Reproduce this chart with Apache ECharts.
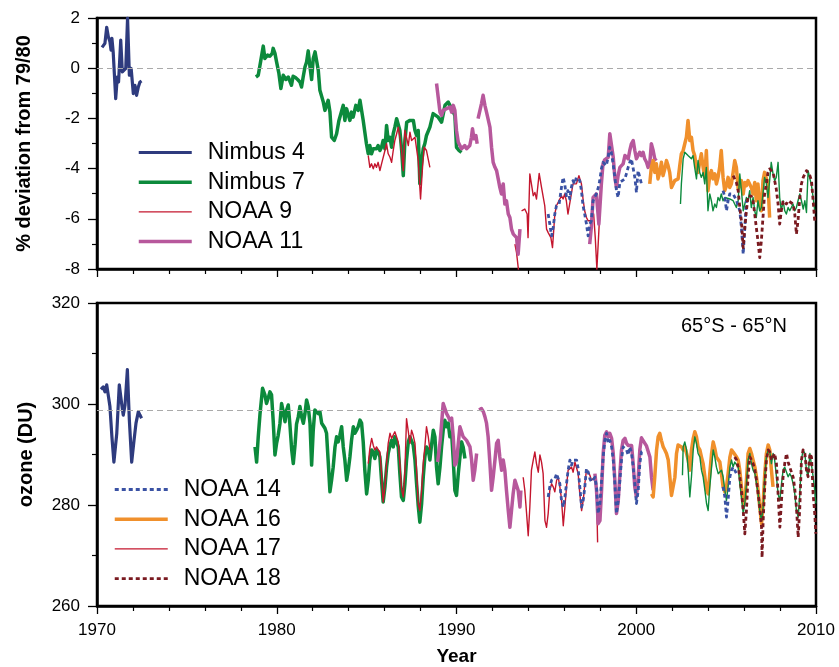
<!DOCTYPE html>
<html>
<head>
<meta charset="utf-8">
<script src="https://cdn.jsdelivr.net/npm/echarts@6/dist/echarts.min.js"></script>
<style>
  html, body { margin: 0; padding: 0; background: #fff; }
  #chart { width: 839px; height: 667px; }
</style>
</head>
<body>
<div id="chart"></div>
<script>
// 上图：相对 79/80 的偏差 (%)，[年份, 数值]，'-' 表示断开
let n4Dev = [[1970.28,0.83],[1970.44,0.99],[1970.54,1.63],[1970.63,1.25],[1970.72,1.05],[1970.78,0.72],[1970.83,1.19],[1970.9,0.65],[1971.04,-1.21],[1971.13,-0.35],[1971.2,-0.55],[1971.32,1.12],[1971.41,-0.15],[1971.5,-0.08],[1971.6,-0.01],[1971.7,2.0],[1971.8,-0.28],[1971.9,-0.01],[1972.02,-1.01],[1972.11,-0.68],[1972.2,-1.08],[1972.3,-0.75],[1972.39,-0.55],[1972.48,-0.51]]
let n7Dev = [[1978.84,-0.35],[1978.97,-0.28],[1979.1,0.25],[1979.25,0.88],[1979.34,0.39],[1979.49,0.52],[1979.62,0.48],[1979.75,0.59],[1979.8,0.79],[1979.9,0.59],[1979.99,0.25],[1980.12,-0.21],[1980.23,-0.81],[1980.36,-0.28],[1980.51,-0.45],[1980.64,-0.35],[1980.73,-0.41],[1980.82,-0.68],[1980.91,-0.32],[1981.04,-0.37],[1981.16,-0.45],[1981.29,-0.55],[1981.38,-0.75],[1981.47,-0.35],[1981.57,0.05],[1981.66,0.25],[1981.75,0.69],[1981.85,0.05],[1981.94,-0.45],[1982.03,0.39],[1982.13,0.65],[1982.22,0.59],[1982.31,-0.08],[1982.4,-0.88],[1982.5,-0.81],[1982.59,-1.35],[1982.68,-1.68],[1982.77,-1.48],[1982.86,-1.28],[1982.96,-1.75],[1983.05,-2.75],[1983.2,-2.88],[1983.33,-2.61],[1983.46,-2.08],[1983.57,-2.08],[1983.7,-1.48],[1983.79,-2.08],[1983.88,-1.61],[1983.98,-1.68],[1984.07,-2.08],[1984.16,-1.75],[1984.25,-1.95],[1984.4,-1.48],[1984.53,-1.68],[1984.63,-1.28],[1984.72,-1.35],[1984.81,-2.08],[1984.9,-2.15],[1984.99,-3.01],[1985.09,-3.41],[1985.18,-3.08],[1985.27,-3.41],[1985.37,-3.21],[1985.46,-3.28],[1985.55,-3.21],[1985.64,-3.08],[1985.74,-3.28],[1985.83,-3.15],[1985.92,-2.88],[1986.02,-3.21],[1986.11,-2.28],[1986.2,-2.88],[1986.3,-2.75],[1986.39,-3.15],[1986.48,-2.61],[1986.57,-2.35],[1986.67,-2.01],[1986.76,-1.95],[1986.85,-2.48],[1986.95,-3.28],[1987.04,-4.28],[1987.13,-2.88],[1987.23,-2.15],[1987.32,-2.21],[1987.41,-2.08],[1987.5,-2.15],[1987.6,-2.08],[1987.69,-2.48],[1987.78,-2.68],[1987.87,-2.48],[1987.96,-4.6],[1988.05,-3.81],[1988.15,-3.2],[1988.24,-3.0],[1988.33,-2.68],[1988.52,-2.35],[1988.7,-1.81],[1988.8,-1.75],[1988.98,-1.95],[1989.17,-2.15],[1989.36,-1.48],[1989.54,-1.35],[1989.73,-1.61],[1989.82,-1.55],[1989.91,-1.88],[1990.0,-3.15],[1990.15,-3.28],[1990.28,-3.35]]
let n9Dev = [[1985.09,-3.48],[1985.18,-3.95],[1985.27,-3.81],[1985.37,-4.01],[1985.46,-3.81],[1985.55,-3.95],[1985.64,-3.75],[1985.74,-4.08],[1985.83,-3.81],[1985.92,-3.75],[1986.02,-3.28],[1986.11,-3.01],[1986.2,-3.41],[1986.3,-3.55],[1986.39,-3.75],[1986.48,-3.28],[1986.57,-2.88],[1986.67,-2.61],[1986.76,-2.35],[1986.85,-2.75],[1986.95,-3.35],[1987.04,-4.08],[1987.13,-2.48],[1987.23,-2.48],[1987.32,-3.08],[1987.41,-2.55],[1987.5,-2.88],[1987.6,-2.88],[1987.69,-2.75],[1987.78,-2.75],[1987.87,-3.68],[1988.0,-5.21],[1988.11,-3.95],[1988.2,-3.15],[1988.33,-3.28],[1988.42,-3.21],[1988.52,-3.95],[1990,'-'],
  [1993.25,-7.01],[1993.34,-7.35],[1993.49,-8.3],[1993.55,'-'],[1993.62,-5.68],[1993.8,-5.61],[1993.93,-5.81],[1993.98,-6.75],[1994.08,-4.21],[1994.27,-5.08],[1994.36,-4.95],[1994.45,-5.21],[1994.6,-4.19],[1994.73,-4.75],[1994.82,-4.75],[1994.91,-5.48],[1995.01,-6.41],[1995.1,-6.55],[1995.25,-6.75],[1995.34,-7.15],[1995.38,-6.75],[1995.47,-5.81],[1995.56,-5.48],[1995.65,-5.35],[1995.75,-5.28],[1995.84,-5.08],[1995.93,-5.21],[1996.02,-5.01],[1996.11,-5.28],[1996.2,-5.81],[1996.3,-5.75],[1996.39,-5.01],[1996.48,-4.61],[1996.67,-4.61],[1996.81,-4.28],[1996.95,-4.61],[1997.04,-5.21],[1997.13,-5.68],[1997.23,-5.95],[1997.32,-6.08],[1997.41,-6.01],[1997.5,-6.08],[1997.63,-5.81],[1997.72,-6.75],[1997.81,-8.01],[1997.92,-6.48],[1997.97,-5.81]]
let n11Dev = [[1988.89,-0.61],[1988.98,-1.15],[1989.08,-1.75],[1989.17,-1.88],[1989.26,-1.68],[1989.36,-1.75],[1989.45,-1.61],[1989.54,-1.68],[1989.64,-1.55],[1989.73,-1.75],[1989.82,-1.48],[1989.91,-1.68],[1990.0,-2.48],[1990.1,-2.95],[1990.19,-3.01],[1990.28,-3.21],[1990.37,-3.15],[1990.46,-3.08],[1990.56,-3.21],[1990.65,-3.28],[1990.74,-3.08],[1990.83,-2.75],[1990.89,-2.41],[1990.97,-2.81],[1991.08,-2.68],[1991.15,-3.01],[1991.17,'-'],
  [1991.2,-2.01],[1991.3,-1.95],[1991.39,-1.41],[1991.48,-1.08],[1991.58,-1.48],[1991.67,-1.75],[1991.76,-1.75],[1991.86,-2.35],[1991.95,-3.15],[1992.04,-3.75],[1992.14,-3.95],[1992.23,-4.08],[1992.32,-4.41],[1992.41,-4.75],[1992.5,-5.01],[1992.6,-4.61],[1992.69,-5.41],[1992.78,-5.28],[1992.88,-5.81],[1992.97,-5.95],[1993.06,-6.41],[1993.16,-6.61],[1993.25,-6.55],[1993.34,-6.75],[1993.43,-7.41],[1993.53,-6.41],[1995,'-'],
  [1997.41,-7.01],[1997.5,-6.35],[1997.6,-5.15],[1997.78,-5.01],[1997.92,-6.21],[1998.06,-4.61],[1998.15,-3.81],[1998.24,-3.65],[1998.33,-3.7],[1998.44,-3.55],[1998.53,-2.61],[1998.62,-2.55],[1998.72,-3.55],[1998.81,-4.35],[1998.9,-4.75],[1998.99,-4.28],[1999.09,-3.95],[1999.18,-3.88],[1999.27,-3.81],[1999.37,-3.48],[1999.46,-3.41],[1999.55,-3.61],[1999.64,-3.28],[1999.73,-3.01],[1999.83,-2.88],[1999.92,-3.28],[2000.01,-3.61],[2000.1,-3.48],[2000.19,-3.35],[2000.29,-3.48],[2000.38,-3.35],[2000.47,-3.61],[2000.57,-3.75],[2000.66,-3.95],[2000.75,-3.81],[2000.84,-3.01],[2000.94,-3.28],[2001.03,-3.61],[2001.12,-3.68]]
let n14Dev = [[1995.1,-5.81],[1995.19,-6.21],[1995.29,-6.68],[1995.38,-6.35],[1995.47,-5.81],[1995.56,-5.48],[1995.71,-5.41],[1995.84,-4.75],[1995.93,-4.35],[1996.02,-4.61],[1996.11,-5.08],[1996.2,-4.88],[1996.3,-5.21],[1996.39,-4.75],[1996.48,-4.48],[1996.57,-4.61],[1996.67,-4.35],[1996.76,-4.28],[1996.86,-4.48],[1996.95,-4.88],[1997.04,-5.48],[1997.13,-5.81],[1997.23,-6.21],[1997.32,-6.68],[1997.41,-6.21],[1997.5,-6.08],[1997.6,-5.28],[1997.78,-5.01],[1997.87,-4.81],[1997.97,-4.48],[1998.06,-4.01],[1998.15,-3.75],[1998.24,-3.68],[1998.33,-3.88],[1998.42,-3.61],[1998.52,-3.15],[1998.61,-3.35],[1998.7,-3.75],[1998.81,-4.35],[1998.9,-4.88],[1998.99,-5.15],[1999.09,-4.55],[1999.18,-4.48],[1999.37,-4.41],[1999.46,-4.35],[1999.55,-3.95],[1999.64,-3.75],[1999.73,-3.61],[1999.83,-3.68],[1999.92,-4.35],[2000.01,-4.95],[2000.1,-4.08],[2000.19,-4.01],[2000.29,-4.61],[2002,'-'],
  [2004.83,-4.88],[2004.93,-5.15],[2005.02,-5.68],[2005.11,-5.28],[2005.2,-5.01],[2005.39,-5.01],[2005.58,-5.28],[2005.76,-5.68],[2005.85,-6.35],[2005.95,-7.41],[2006.04,-6.35],[2006.13,-5.28]]
let n16Dev = [[2000.75,-4.61],[2000.84,-3.95],[2000.94,-3.68],[2001.03,-4.15],[2001.12,-3.81],[2001.21,-4.41],[2001.31,-4.15],[2001.4,-3.75],[2001.49,-4.28],[2001.59,-4.01],[2001.68,-3.68],[2001.77,-3.88],[2001.86,-4.15],[2001.96,-4.75],[2002.05,-4.81],[2002.14,-4.48],[2002.24,-4.55],[2002.33,-4.41],[2002.42,-3.88],[2002.51,-3.41],[2002.61,-3.28],[2002.7,-3.01],[2002.79,-2.75],[2002.88,-2.08],[2002.98,-2.88],[2003.07,-2.75],[2003.16,-3.28],[2003.25,-3.48],[2003.35,-3.95],[2003.44,-4.15],[2003.53,-3.75],[2003.62,-3.41],[2003.72,-3.95],[2003.81,-4.35],[2003.9,-3.28],[2003.99,-4.88],[2004.09,-4.28],[2004.18,-4.08],[2004.27,-4.41],[2004.37,-4.21],[2004.46,-4.61],[2004.55,-4.35],[2004.64,-3.95],[2004.73,-3.28],[2004.83,-4.35],[2004.92,-4.88],[2005.02,-4.68],[2005.11,-4.35],[2005.2,-4.75],[2005.29,-4.61],[2005.39,-4.15],[2005.48,-3.68],[2005.57,-3.95],[2005.67,-4.81],[2005.76,-4.88],[2005.85,-4.48],[2005.95,-5.01],[2006.04,-4.55],[2006.13,-4.68],[2006.22,-4.48],[2006.31,-4.55],[2006.4,-4.75],[2006.5,-5.01],[2006.59,-4.55],[2006.68,-5.28],[2006.77,-4.61],[2006.87,-5.41],[2006.96,-5.68],[2007.05,-4.48],[2007.14,-4.15],[2007.24,-4.08],[2007.33,-4.61],[2007.42,-5.95]]
let n17Dev = [[2002.46,-5.41],[2002.51,-4.61],[2002.61,-3.61],[2002.7,-3.35],[2002.79,-3.35],[2002.88,-3.48],[2002.98,-3.41],[2003.07,-3.61],[2003.16,-3.48],[2003.25,-3.95],[2003.35,-4.41],[2003.44,-3.68],[2003.53,-4.15],[2003.62,-4.35],[2003.72,-4.15],[2003.81,-4.61],[2003.9,-3.95],[2003.99,-5.68],[2004.09,-5.01],[2004.18,-5.28],[2004.27,-5.68],[2004.37,-5.41],[2004.46,-5.55],[2004.55,-5.15],[2004.64,-5.28],[2004.73,-5.01],[2004.83,-5.28],[2004.93,-5.15],[2005.02,-5.2],[2005.2,-5.21],[2005.39,-5.28],[2005.57,-5.55],[2005.67,-5.28],[2005.76,-4.21],[2005.85,-4.88],[2005.95,-5.68],[2006.04,-5.41],[2006.13,-5.15],[2006.22,-5.28],[2006.31,-4.88],[2006.4,-5.55],[2006.5,-5.15],[2006.59,-5.68],[2006.68,-5.95],[2006.77,-5.28],[2006.87,-5.68],[2006.96,-5.55],[2007.05,-5.01],[2007.14,-4.35],[2007.24,-4.61],[2007.33,-5.15],[2007.42,-4.48],[2007.51,-3.75],[2007.61,-4.21],[2007.7,-4.48],[2007.79,-4.35],[2007.89,-3.75],[2007.98,-5.15],[2008.07,-5.68],[2008.17,-5.28],[2008.26,-5.68],[2008.35,-5.81],[2008.45,-5.55],[2008.54,-5.68],[2008.63,-5.55],[2008.72,-5.41],[2008.82,-5.68],[2008.91,-5.55],[2009.0,-5.28],[2009.1,-5.01],[2009.19,-5.28],[2009.29,-5.61],[2009.38,-5.28],[2009.47,-5.75],[2009.56,-4.08],[2009.66,-4.15],[2009.75,-4.68],[2009.84,-5.15],[2009.93,-5.68]]
let n18Dev = [[2005.39,-4.28],[2005.48,-4.3],[2005.57,-4.55],[2005.67,-4.88],[2005.76,-5.55],[2005.85,-6.08],[2005.95,-7.15],[2006.04,-6.35],[2006.13,-5.68],[2006.22,-5.08],[2006.31,-5.01],[2006.4,-5.1],[2006.5,-5.28],[2006.59,-5.81],[2006.68,-6.35],[2006.77,-6.88],[2006.87,-7.55],[2006.96,-6.88],[2007.05,-5.95],[2007.14,-5.01],[2007.24,-4.61],[2007.33,-4.15],[2007.42,-4.01],[2007.51,-4.01],[2007.61,-4.15],[2007.7,-4.48],[2007.79,-4.81],[2007.89,-5.41],[2007.98,-6.21],[2008.07,-5.68],[2008.17,-5.28],[2008.26,-5.21],[2008.35,-5.41],[2008.45,-5.28],[2008.54,-5.21],[2008.72,-5.41],[2008.82,-5.81],[2008.91,-6.61],[2009.0,-6.08],[2009.1,-5.15],[2009.19,-4.61],[2009.29,-4.35],[2009.47,-4.08],[2009.56,-4.15],[2009.66,-4.28],[2009.75,-4.48],[2009.84,-5.28],[2009.93,-6.08]]

// 下图：臭氧总量 (DU)
let n4Oz = [[1970.22,302.9],[1970.35,303.4],[1970.44,302.4],[1970.54,303.8],[1970.63,303.8],[1970.72,299.5],[1970.83,293.5],[1970.94,288.5],[1971.1,294.2],[1971.24,303.8],[1971.37,300.1],[1971.46,297.8],[1971.56,299.8],[1971.69,306.8],[1971.8,296.8],[1971.93,288.5],[1972.06,292.8],[1972.17,296.2],[1972.3,298.5],[1972.39,297.8],[1972.48,297.2]]
let n7Oz = [[1978.79,291.5],[1978.88,288.5],[1978.97,293.5],[1979.07,298.1],[1979.21,303.1],[1979.34,301.8],[1979.43,300.1],[1979.52,301.1],[1979.62,302.4],[1979.71,301.8],[1979.8,296.8],[1979.9,289.9],[1979.99,292.2],[1980.08,293.8],[1980.18,296.2],[1980.27,300.1],[1980.36,298.5],[1980.46,296.5],[1980.55,298.8],[1980.64,299.8],[1980.73,296],[1980.83,291],[1980.92,288.2],[1981.02,292],[1981.1,296],[1981.2,297.5],[1981.29,299.5],[1981.38,297.5],[1981.48,296.2],[1981.57,298.1],[1981.66,300.8],[1981.75,299.5],[1981.85,296.2],[1981.94,287.9],[1982.03,294.8],[1982.12,298.8],[1982.22,299.1],[1982.31,298.1],[1982.4,298.5],[1982.5,296.2],[1982.68,295.2],[1982.77,294.2],[1982.87,288.2],[1982.96,282.6],[1983.05,284.9],[1983.14,287.5],[1983.24,291.5],[1983.33,293.5],[1983.42,292.5],[1983.51,293.8],[1983.61,295.5],[1983.7,291.5],[1983.79,288.9],[1983.89,284.9],[1983.98,286.9],[1984.07,289.5],[1984.16,292.8],[1984.26,295.5],[1984.35,294.2],[1984.44,294.8],[1984.53,295.5],[1984.63,296.8],[1984.72,296.2],[1984.81,292.5],[1984.9,286.9],[1985.0,282.2],[1985.09,284.9],[1985.18,288.9],[1985.28,290.9],[1985.37,290.5],[1985.46,289.2],[1985.55,290.9],[1985.65,290.5],[1985.74,289.5],[1985.83,284.9],[1985.92,280.6],[1986.02,283.6],[1986.11,287.5],[1986.2,290.2],[1986.3,291.8],[1986.39,292.8],[1986.48,291.5],[1986.57,293.5],[1986.67,293.2],[1986.76,291.5],[1986.85,286.2],[1986.94,281.6],[1987.04,280.9],[1987.13,284.2],[1987.22,288.9],[1987.32,292.5],[1987.41,293.5],[1987.5,293.2],[1987.59,291.9],[1987.69,288.9],[1987.78,284.2],[1987.87,279.9],[1987.96,276.6],[1988.06,280.3],[1988.15,285.5],[1988.24,289.5],[1988.33,291.5],[1988.43,290.9],[1988.52,288.9],[1988.61,291.8],[1988.71,294.8],[1988.8,293.5],[1988.89,287.5],[1988.98,284.2],[1989.08,287.5],[1989.17,291.5],[1989.26,294.8],[1989.35,296.8],[1989.45,295.5],[1989.54,296.2],[1989.63,293.5],[1989.73,294.2],[1989.82,288.9],[1989.91,282.9],[1990.0,281.9],[1990.1,286.2],[1990.19,289.5],[1990.28,292.5],[1990.37,291.5],[1990.47,289.2]]
let n9Oz = [[1985.09,288.2],[1985.18,291.2],[1985.28,293.2],[1985.37,291.8],[1985.46,290.9],[1985.55,291.5],[1985.65,290.9],[1985.74,290.5],[1985.83,286.2],[1985.92,280.6],[1986.02,283.6],[1986.11,288.2],[1986.2,292.2],[1986.3,294.2],[1986.39,293.2],[1986.48,293.5],[1986.57,294.5],[1986.67,294.5],[1986.76,292.5],[1986.85,288.2],[1986.94,283.2],[1987.04,281.6],[1987.13,286.9],[1987.22,297.1],[1987.32,294.5],[1987.41,292.2],[1987.5,294.8],[1987.59,293.8],[1987.69,292.2],[1987.78,286.9],[1987.87,280.3],[1987.96,278.9],[1988.06,282.9],[1988.15,288.2],[1988.24,291.5],[1988.33,295.5],[1988.43,293.5],[1988.52,290.9],[1990,'-'],
  [1993.71,285.5],[1993.8,282.9],[1993.9,278.3],[1993.99,273.9],[1994.08,279.6],[1994.17,286.9],[1994.27,288.9],[1994.36,290.5],[1994.45,288.2],[1994.55,286.5],[1994.64,289.9],[1994.73,288.5],[1994.82,286.2],[1994.92,276.9],[1995.01,275.6],[1995.1,278.3],[1995.19,282.9],[1995.29,284.2],[1995.38,283.6],[1995.47,282.6],[1995.57,284.9],[1995.66,285.5],[1995.75,283.6],[1995.84,281.2],[1995.94,275.9],[1996.03,279.6],[1996.12,283.6],[1996.21,286.9],[1996.31,286.9],[1996.4,287.5],[1996.49,286.5],[1996.59,288.5],[1996.68,288.2],[1996.77,286.2],[1996.86,282.2],[1996.96,278.9],[1997.05,280.9],[1997.14,284.2],[1997.23,286.9],[1997.33,287.2],[1997.42,285.9],[1997.51,284.9],[1997.6,284.6],[1997.7,285.5],[1997.79,282.9],[1997.85,272.6]]
let n11Oz = [[1988.95,288.5],[1989.1,293],[1989.26,300.1],[1989.35,299.8],[1989.45,298.1],[1989.54,297.5],[1989.63,296.8],[1989.73,297.2],[1989.82,293.5],[1989.91,287.9],[1990.0,288.5],[1990.1,292.2],[1990.19,295.5],[1990.28,295.2],[1990.37,293.5],[1990.47,293.2],[1990.56,292.8],[1990.65,292.8],[1990.75,291.5],[1990.84,288.9],[1990.93,284.9],[1991.02,286.9],[1991.12,290.2],[1991.2,'-'],
  [1991.26,298.8],[1991.39,299.1],[1991.49,298.5],[1991.58,297.5],[1991.67,296.2],[1991.76,293.5],[1991.86,288.2],[1991.95,282.9],[1992.04,285.5],[1992.14,288.9],[1992.23,292.2],[1992.32,292.8],[1992.41,289.5],[1992.51,286.9],[1992.6,288.9],[1992.69,286.9],[1992.78,282.9],[1992.88,278.9],[1992.97,275.6],[1993.06,278.9],[1993.15,282.2],[1993.25,284.9],[1993.34,284.9],[1993.43,282.9],[1993.53,279.6],[1993.58,282.9],[1995,'-'],
  [1997.7,286.2],[1997.79,282.9],[1997.88,276.3],[1997.98,276.9],[1998.07,282.9],[1998.16,290.2],[1998.25,293.8],[1998.35,294.5],[1998.44,293.5],[1998.53,294.2],[1998.63,293.2],[1998.72,290.2],[1998.81,284.9],[1998.9,278.3],[1999.0,280.9],[1999.09,286.2],[1999.18,290.9],[1999.27,292.8],[1999.37,293.2],[1999.46,292.2],[1999.55,291.8],[1999.64,292],[1999.74,291.8],[1999.83,288.2],[1999.92,283.5],[2000.01,281.6],[2000.11,285.5],[2000.2,291],[2000.29,293.3],[2000.39,293.2],[2000.48,292.2],[2000.57,291.7],[2000.66,291.5],[2000.76,289.5],[2000.85,285.5],[2000.94,282.9]]
let n14Oz = [[1995.1,281.6],[1995.19,283.6],[1995.29,284.9],[1995.38,284.6],[1995.47,285.2],[1995.57,286.2],[1995.66,285.9],[1995.75,284.2],[1995.84,280.9],[1995.94,279.6],[1996.03,281.6],[1996.12,284.2],[1996.21,286.9],[1996.31,288.9],[1996.4,287.9],[1996.49,288.9],[1996.59,289.2],[1996.68,288.9],[1996.77,287.2],[1996.86,283.6],[1996.96,279.6],[1997.05,280.9],[1997.14,283.6],[1997.23,287.2],[1997.33,286.5],[1997.42,285.2],[1997.51,284.6],[1997.6,284.9],[1997.7,285.5],[1997.79,283.6],[1997.88,278.3],[1997.98,280.3],[1998.07,284.9],[1998.16,289.5],[1998.25,292.8],[1998.35,294.2],[1998.44,292.2],[1998.53,292.8],[1998.63,291.5],[1998.72,288.9],[1998.81,284.2],[1998.9,278.3],[1999.0,280.9],[1999.09,284.9],[1999.18,288.9],[1999.27,291.5],[1999.37,291.8],[1999.46,290.9],[1999.55,289.9],[1999.64,291.5],[1999.74,290.2],[1999.83,287.5],[1999.92,284.2],[2000.01,280.3],[2000.11,282.9],[2000.2,288.2],[2000.29,290.5],[2000.39,290.2],[2000.48,290.9],[2002,'-'],
  [2004.83,283.6],[2004.93,281.6],[2005.02,277.6],[2005.11,280.9],[2005.21,285.6],[2005.3,286.9],[2005.39,287.5],[2005.48,287.2],[2005.58,286.2]]
let n16Oz = [[2000.85,282.2],[2000.94,281.6],[2001.03,285.5],[2001.13,290.9],[2001.22,293.5],[2001.31,294.2],[2001.4,292.8],[2001.5,291.5],[2001.59,290.9],[2001.68,290.2],[2001.78,288.9],[2001.87,285.5],[2001.96,281.9],[2002.05,281.6],[2002.15,285.5],[2002.24,290.2],[2002.33,291.9],[2002.42,292.2],[2002.52,291.5],[2002.61,290.9],[2002.7,291.5],[2002.8,290.2],[2002.89,288.9],[2002.98,286.9],[2003.07,290.9],[2003.17,293.2],[2003.26,294.5],[2003.35,293.5],[2003.44,291.5],[2003.54,290.9],[2003.63,289.5],[2003.72,288.2],[2003.82,285.5],[2003.91,282.9],[2004.0,282.2],[2004.09,286.2],[2004.19,290.2],[2004.28,292.5],[2004.37,291.2],[2004.46,289.5],[2004.56,289.2],[2004.65,288.5],[2004.74,286.2],[2004.83,283.6],[2004.93,282.6],[2005.02,283.6],[2005.11,286.2],[2005.21,289.5],[2005.3,290.9],[2005.39,290.5],[2005.48,290.2],[2005.58,289.5],[2005.67,288.9],[2005.76,286.9],[2005.85,283.6],[2005.95,280.3],[2006.04,280.9],[2006.13,284.9],[2006.22,290.2],[2006.32,291.2],[2006.41,290.2],[2006.5,288.9],[2006.6,287.5],[2006.69,285.5],[2006.78,282.9],[2006.87,279.6],[2006.97,276.3],[2007.06,280.3],[2007.15,286.2],[2007.24,290.2],[2007.34,291.9],[2007.43,290.9],[2007.52,286.9],[2007.61,283.6]]
let n17Oz = [[2002.57,285.9],[2002.61,291.5],[2002.7,292.5],[2002.8,290.9],[2002.89,286.9],[2002.98,281.6],[2003.07,285.5],[2003.17,290.9],[2003.26,293.5],[2003.35,292.2],[2003.44,290.2],[2003.54,289.5],[2003.63,286.9],[2003.72,285.6],[2003.82,282.9],[2003.91,280.3],[2004.0,278.9],[2004.09,283.6],[2004.19,287.5],[2004.28,290.9],[2004.37,289.5],[2004.46,287.5],[2004.56,286.2],[2004.65,285.9],[2004.74,286.9],[2004.83,285.6],[2004.93,282.9],[2005.02,280.9],[2005.11,283.6],[2005.21,287.5],[2005.3,288.9],[2005.39,287.5],[2005.48,288.5],[2005.58,288.2],[2005.67,287.5],[2005.76,284.2],[2005.85,281.6],[2005.95,278.3],[2006.04,280.3],[2006.13,284.2],[2006.22,288.9],[2006.32,290.2],[2006.41,288.2],[2006.5,286.9],[2006.6,286.2],[2006.69,284.2],[2006.78,282.2],[2006.87,278.9],[2006.97,276.9],[2007.06,279.6],[2007.15,285.6],[2007.24,289.5],[2007.34,290.9],[2007.43,290.5],[2007.52,288.2],[2007.61,290.2],[2007.7,288.9],[2007.8,285.6],[2007.89,282.2],[2007.99,280.9],[2008.08,284.2],[2008.17,286.9],[2008.26,287.5],[2008.36,286.5],[2008.45,285.6],[2008.54,286.2],[2008.63,285.6],[2008.73,284.2],[2008.82,282.2],[2008.91,278.9],[2009.01,277.6],[2009.1,282.2],[2009.19,288.9],[2009.28,290.9],[2009.38,290.2],[2009.47,286.9],[2009.56,285.6],[2009.66,290.2],[2009.75,290.2],[2009.84,285.6],[2009.93,282.9],[2009.99,280.3]]
let n18Oz = [[2005.48,289.5],[2005.58,288.9],[2005.67,287.5],[2005.76,285.6],[2005.85,282.9],[2005.95,278.9],[2006.04,274.3],[2006.13,278.9],[2006.22,285.6],[2006.32,289.5],[2006.41,288.9],[2006.5,288.2],[2006.6,286.9],[2006.69,284.9],[2006.78,282.2],[2006.87,279.6],[2006.97,275.6],[2007.0,269.6],[2007.06,276.9],[2007.15,283.6],[2007.24,288.9],[2007.34,290.9],[2007.43,290.5],[2007.52,288.9],[2007.61,289.5],[2007.7,290.2],[2007.8,288.2],[2007.89,282.2],[2007.99,275.6],[2008.08,280.9],[2008.17,285.6],[2008.26,288.2],[2008.36,290.2],[2008.45,288.5],[2008.54,287.5],[2008.63,287.5],[2008.73,285.5],[2008.82,283.2],[2008.91,279.6],[2009.01,273.6],[2009.1,279.6],[2009.19,288.9],[2009.28,290.9],[2009.38,290.2],[2009.47,286.9],[2009.56,285.6],[2009.66,290.2],[2009.75,289.5],[2009.84,282.2],[2009.93,278.3],[2009.99,274.3]]

// 刻度
let yearMin = 1970, yearMax = 2010, yearStep = 10
let devMin = -8, devMax = 2, devStep = 2
let ozMin = 260, ozMax = 320, ozStep = 20
let devRef = 0, ozRef = 298.7

let FONT = 'Liberation Sans, Arial, Helvetica, sans-serif'

let C = {
  n4: '#2e3b7e',
  n7: '#0c8a3c',
  n9: '#c4162e',
  n11: '#b7589c',
  n14: '#3a52a4',
  n16: '#f0902c',
  n17: '#0c8a3c',
  n18: '#7a1a20',
}

function xAxisOf(i, showLabel) {
  return {
    type: 'value', gridIndex: i, min: yearMin, max: yearMax, interval: yearStep,
    name: showLabel ? 'Year' : '', nameLocation: 'middle', nameGap: 41,
    nameTextStyle: { fontFamily: FONT, fontSize: 19, fontWeight: 'bold', color: '#000' },
    axisLine: { onZero: false, lineStyle: { color: '#000', width: 2.5 } },
    axisTick: { length: 8, lineStyle: { color: '#000', width: 1.3 } },
    minorTick: { show: true, splitNumber: 5, length: 5, lineStyle: { color: '#000', width: 1.2 } },
    splitLine: { show: false },
    axisLabel: { show: showLabel, margin: 16, fontFamily: FONT, fontSize: 17, color: '#000',
      formatter: function (v) { return String(v) } },
  }
}

function yAxisOf(i, min, max, step, name, gap) {
  return {
    type: 'value', gridIndex: i, min: min, max: max, interval: step,
    name: name, nameLocation: 'middle', nameGap: gap,
    nameTextStyle: { fontFamily: FONT, fontSize: 20, fontWeight: 'bold', color: '#000' },
    axisLine: { onZero: false, lineStyle: { color: '#000', width: 2.5 } },
    axisTick: { length: 9, lineStyle: { color: '#000', width: 1.3 } },
    minorTick: { show: true, splitNumber: 2, length: 5, lineStyle: { color: '#000', width: 1.2 } },
    splitLine: { show: false },
    axisLabel: { margin: 17, fontFamily: FONT, fontSize: 17, color: '#000' },
  }
}

// 线条样式
function line(name, data, i, color, width, dashed) {
  return {
    name: name, type: 'line', xAxisIndex: i, yAxisIndex: i,
    data: data, symbol: 'none', connectNulls: false, silent: true,
    lineStyle: { color: color, width: width, type: dashed ? [4, 3] : 'solid', join: 'round' },
    itemStyle: { color: color },
  }
}

function refLine(i, y) {
  return {
    type: 'line', xAxisIndex: i, yAxisIndex: i, data: [], silent: true,
    markLine: {
      silent: true, symbol: 'none', label: { show: false },
      lineStyle: { color: '#aaa', width: 1.2, type: [6, 4] },
      data: [{ yAxis: y }],
    },
  }
}

function legendOf(left, top, names) {
  return {
    orient: 'vertical', left: left, top: top, padding: 0,
    itemWidth: 53, itemHeight: 14, itemGap: 6.7,
    itemStyle: { opacity: 0 },
    lineStyle: { width: 'inherit' },
    textStyle: { fontFamily: FONT, fontSize: 23, color: '#000', padding: [0, 0, 0, 11] },
    data: names,
  }
}

let myChart = echarts.init(document.getElementById('chart'))
let option = {
  animation: false,
  backgroundColor: '#fff',
  grid: [
    { left: 97, top: 18, width: 719, height: 251, show: true, borderColor: '#000', borderWidth: 2.5 },
    { left: 97, top: 303, width: 719, height: 303, show: true, borderColor: '#000', borderWidth: 2.5 },
  ],
  xAxis: [xAxisOf(0, false), xAxisOf(1, true)],
  yAxis: [
    yAxisOf(0, devMin, devMax, devStep, '% deviation from 79/80', 63),
    yAxisOf(1, ozMin, ozMax, ozStep, 'ozone (DU)', 61),
  ],
  legend: [
    legendOf(137, 141, ['Nimbus 4', 'Nimbus 7', 'NOAA 9', 'NOAA 11']),
    legendOf(113, 478, ['NOAA 14', 'NOAA 16', { name: 'NOAA 17', lineStyle: { color: C.n9 } }, 'NOAA 18']),
  ],
  graphic: [
    { type: 'text', left: 681, top: 316,
      style: { text: '65°S - 65°N', fontFamily: FONT, fontSize: 20, fill: '#000' } },
  ],
  series: [
    refLine(0, devRef),
    refLine(1, ozRef),
    line('Nimbus 4', n4Dev, 0, C.n4, 3.2),
    line('Nimbus 4', n4Oz, 1, C.n4, 3.2),
    line('Nimbus 7', n7Dev, 0, C.n7, 3.5),
    line('Nimbus 7', n7Oz, 1, C.n7, 3.5),
    line('NOAA 9', n9Dev, 0, C.n9, 1.4),
    line('NOAA 9', n9Oz, 1, C.n9, 1.4),
    line('NOAA 11', n11Dev, 0, C.n11, 3.5),
    line('NOAA 11', n11Oz, 1, C.n11, 3.5),
    line('NOAA 16', n16Dev, 0, C.n16, 3.5),
    line('NOAA 16', n16Oz, 1, C.n16, 3.5),
    line('NOAA 17', n17Dev, 0, C.n17, 1.4),
    line('NOAA 17', n17Oz, 1, C.n17, 1.4),
    line('NOAA 14', n14Dev, 0, C.n14, 2.8, true),
    line('NOAA 14', n14Oz, 1, C.n14, 2.8, true),
    line('NOAA 18', n18Dev, 0, C.n18, 2.8, true),
    line('NOAA 18', n18Oz, 1, C.n18, 2.8, true),
  ],
}
myChart.setOption(option)
</script>
</body>
</html>
